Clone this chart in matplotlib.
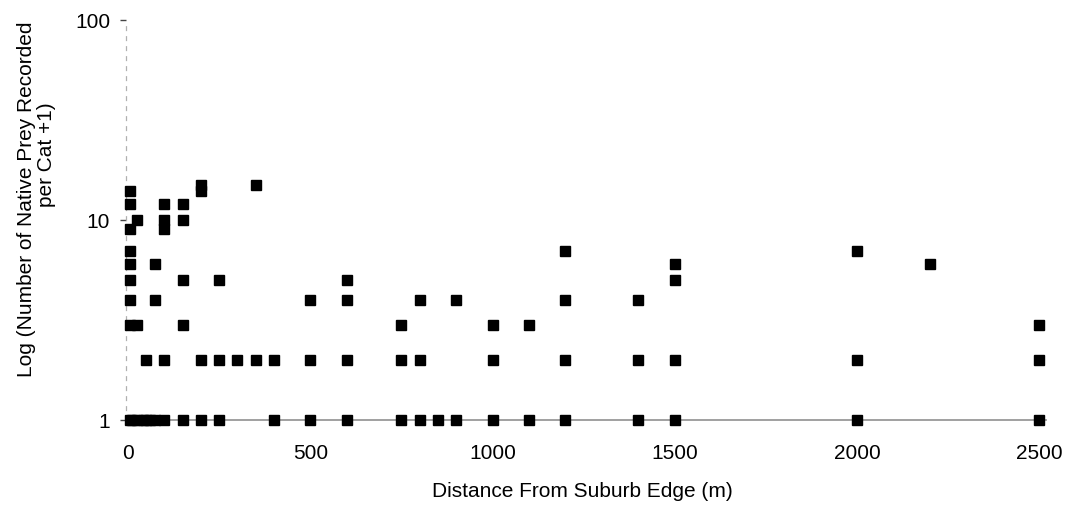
"""Native prey per cat against distance from the suburb edge (log scale)."""

import matplotlib

matplotlib.use("Agg")
import matplotlib.pyplot as plt
from matplotlib.ticker import FixedLocator, NullLocator, FuncFormatter

# distance from suburb edge (m) and native prey count + 1, one entry per cat
DISTANCE = [
    5, 5, 5, 5, 5, 5, 5, 5, 5,
    25, 25, 25,
    10, 40, 50, 50, 60,
    75, 75, 75,
    100, 100, 100, 100, 100,
    150, 150, 150, 150, 150,
    200, 200, 200, 200,
    250, 250, 250,
    300,
    350, 350,
    400, 400,
    500, 500, 500,
    600, 600, 600, 600,
    750, 750, 750,
    800, 800, 800,
    850,
    900, 900,
    1000, 1000, 1000,
    1100, 1100,
    1200, 1200, 1200, 1200,
    1400, 1400, 1400,
    1500, 1500, 1500, 1500,
    2000, 2000, 2000,
    2200,
    2500, 2500, 2500,
]
PREY_PLUS_ONE = [
    14, 12, 9, 7, 6, 5, 4, 3, 1,
    10, 3, 1,
    1, 1, 2, 1, 1,
    6, 4, 1,
    12, 10, 9, 2, 1,
    12, 10, 5, 3, 1,
    15, 14, 2, 1,
    5, 2, 1,
    2,
    15, 2,
    2, 1,
    4, 2, 1,
    5, 4, 2, 1,
    3, 2, 1,
    4, 2, 1,
    1,
    4, 1,
    3, 2, 1,
    3, 1,
    7, 4, 2, 1,
    4, 2, 1,
    6, 5, 2, 1,
    7, 2, 1,
    6,
    3, 2, 1,
]
X_TICKS = [0, 500, 1000, 1500, 2000, 2500]
Y_TICKS = [1, 10, 100]

FONT = ["Liberation Sans", "DejaVu Sans"]
SIZE = 15


def scatter() -> plt.Figure:
    fig = plt.figure(figsize=(10.78, 5.06), dpi=100)
    ax = fig.add_axes([126 / 1078, 85 / 506, 920 / 1078, 400 / 506])
    ax.plot(
        DISTANCE,
        PREY_PLUS_ONE,
        linestyle="none",
        marker="s",
        markersize=7.5,
        color="black",
        clip_on=False,
        zorder=3,
    )
    ax.set_yscale("log")
    ax.set_ylim(1, 100)
    ax.set_xlim(-5.5, 2518)

    ax.xaxis.set_major_locator(FixedLocator(X_TICKS))
    ax.yaxis.set_major_locator(FixedLocator(Y_TICKS))
    ax.yaxis.set_minor_locator(NullLocator())
    ax.yaxis.set_major_formatter(FuncFormatter(lambda v, _: f"{v:g}"))
    ax.tick_params(axis="x", length=0, pad=16.5, labelsize=SIZE)
    ax.tick_params(axis="y", length=4, width=1, color="#444444", pad=7.5, labelsize=SIZE)
    for label in ax.get_xticklabels() + ax.get_yticklabels():
        label.set_family(FONT)

    for side in ("top", "right"):
        ax.spines[side].set_visible(False)
    ax.spines["bottom"].set_color("#999999")
    ax.spines["bottom"].set_linewidth(1.3)
    ax.spines["left"].set_color("#b0b0b0")
    ax.spines["left"].set_linewidth(0.9)
    ax.spines["left"].set_linestyle((0, (3, 5)))

    fig.text(582 / 1078, 1 - 492 / 506, "Distance From Suburb Edge (m)",
             ha="center", va="center", fontsize=SIZE, family=FONT)
    fig.text(27 / 1078, 1 - 199 / 506, "Log (Number of Native Prey Recorded",
             ha="center", va="center", rotation=90, fontsize=SIZE, family=FONT)
    fig.text(47 / 1078, 1 - 155 / 506, "per Cat +1)",
             ha="center", va="center", rotation=90, fontsize=SIZE, family=FONT)
    return fig


def main() -> None:
    fig = scatter()
    fig.savefig("out.png", dpi=100)
    plt.close(fig)


if __name__ == "__main__":
    main()
